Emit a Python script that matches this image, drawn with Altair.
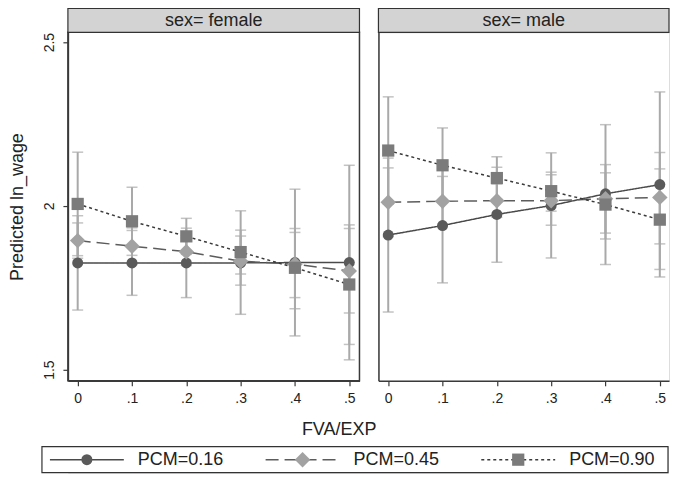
import altair as alt
import pandas as pd

FONT = "Liberation Sans"
TXT = "#222222"
AX = "#3a3a3a"
CI = "#a9a9a9"

# ---------------- data ----------------
sex_values = ["female", "male"]
strip_labels = ["sex= female", "sex= male"]
pcm_labels = ["PCM=0.16", "PCM=0.45", "PCM=0.90"]
fva_values = [0.0, 0.1, 0.2, 0.3, 0.4, 0.5]

x_tick_values = [0, 0.1, 0.2, 0.3, 0.4, 0.5]
x_tick_labels = ["0", ".1", ".2", ".3", ".4", ".5"]
y_tick_values = [1.5, 2.0, 2.5]
y_tick_labels = ["1.5", "2", "2.5"]

y_title = "Predicted ln_wage"
x_title = "FVA/EXP"

# female
female_016 = [1.826, 1.826, 1.826, 1.826, 1.827, 1.827]
female_016_lo = [1.682, 1.727, 1.720, 1.669, 1.603, 1.530]
female_016_hi = [1.970, 1.925, 1.932, 1.985, 2.051, 2.124]
female_045 = [1.894, 1.877, 1.860, 1.831, 1.822, 1.801]
female_045_lo = [1.840, 1.821, 1.818, 1.758, 1.720, 1.673]
female_045_hi = [1.948, 1.933, 1.902, 1.908, 1.919, 1.931]
female_090 = [2.006, 1.953, 1.907, 1.859, 1.811, 1.760]
female_090_lo = [1.848, 1.849, 1.852, 1.792, 1.686, 1.577]
female_090_hi = [2.164, 2.057, 1.962, 1.926, 1.931, 1.942]

# male
male_016 = [1.911, 1.940, 1.974, 2.001, 2.037, 2.065]
male_016_lo = [1.676, 1.765, 1.828, 1.841, 1.821, 1.783]
male_016_hi = [2.146, 2.115, 2.118, 2.162, 2.248, 2.348]
male_045 = [2.011, 2.014, 2.016, 2.016, 2.022, 2.026]
male_045_lo = [1.906, 1.938, 1.965, 1.941, 1.917, 1.884]
male_045_hi = [2.116, 2.090, 2.067, 2.095, 2.126, 2.163]
male_090 = [2.169, 2.124, 2.085, 2.045, 2.004, 1.958]
male_090_lo = [2.005, 2.010, 2.020, 1.984, 1.899, 1.806]
male_090_hi = [2.333, 2.238, 2.150, 2.103, 2.101, 2.113]

series = [
    ("female", "PCM=0.16", female_016, female_016_lo, female_016_hi),
    ("female", "PCM=0.45", female_045, female_045_lo, female_045_hi),
    ("female", "PCM=0.90", female_090, female_090_lo, female_090_hi),
    ("male", "PCM=0.16", male_016, male_016_lo, male_016_hi),
    ("male", "PCM=0.45", male_045, male_045_lo, male_045_hi),
    ("male", "PCM=0.90", male_090, male_090_lo, male_090_hi),
]
rows = []
for sex, pcm, m, lo, hi in series:
    for xv, a, b, c in zip(fva_values, m, lo, hi):
        rows.append({"sex": sex, "pcm": pcm, "fva": xv, "margin": a, "lo": b, "hi": c})
df = pd.DataFrame(rows)

# ---------------- styles ----------------
marker_fills = ["#5a5a5a", "#a2a2a2", "#7b7b7b"]
line_colors = ["#4a4a4a", "#5c5c5c", "#3a3a3a"]
shapes = ["circle", "diamond", "square"]
sizes = [121, 240, 150]
dashes = [[1, 0], [13, 6], [3, 3]]

PX_PER_UNIT = 544
X_MIN = -0.018
PW_L, PW_R, PH = 292, 291, 349
STRIP_H = 24
y_scale = alt.Scale(domain=[1.466, 2.530], nice=False, zero=False)


def arr(v):
    return "[" + ",".join(repr(x) if not isinstance(x, str) else "'" + x + "'" for x in v) + "]"


x_label_expr = f"{arr(x_tick_labels)}[indexof({arr(x_tick_values)}, datum.value)]"
y_label_expr = f"{arr(y_tick_labels)}[indexof({arr(y_tick_values)}, datum.value)]"

stroke_scale = alt.Scale(domain=pcm_labels, range=line_colors)
fill_scale = alt.Scale(domain=pcm_labels, range=marker_fills)
shape_scale = alt.Scale(domain=pcm_labels, range=shapes)
size_scale = alt.Scale(type="ordinal", domain=pcm_labels, range=sizes)
dash_scale = alt.Scale(domain=pcm_labels, range=dashes)


def make_panel(sex, strip_label, width, left):
    x_max = X_MIN + width / PX_PER_UNIT
    x_scale = alt.Scale(domain=[X_MIN, x_max], nice=False, zero=False)
    x_axis = alt.Axis(values=x_tick_values, labelExpr=x_label_expr, title=None,
                      grid=False, tickSize=5, tickColor=AX, tickWidth=1.2,
                      domainColor=AX, domainWidth=1.5, labelFontSize=14,
                      labelColor=TXT, labelPadding=6, labelFont=FONT,
                      labelFlush=False)
    if left:
        y_axis = alt.Axis(values=y_tick_values, labelExpr=y_label_expr, grid=False,
                          tickSize=5, tickColor=AX, tickWidth=1.2, domainColor=AX,
                          domainWidth=1.5, labelFontSize=14, labelColor=TXT,
                          labelFont=FONT, labelAngle=270, labelAlign="center",
                          labelBaseline="bottom", labelPadding=6,
                          titleFontSize=18, titleFont=FONT, titleFontWeight="normal",
                          titleColor=TXT, titlePadding=16)
        yt = y_title
    else:
        y_axis = alt.Axis(labels=False, ticks=False, grid=False, domainColor=AX,
                          domainWidth=1.5, minExtent=0, maxExtent=0)
        yt = None

    base = alt.Chart(df).transform_filter(alt.datum.sex == sex)
    x = alt.X("fva:Q", scale=x_scale, axis=x_axis)
    strip_df = pd.DataFrame({"label": [strip_label]})

    strip_rect = alt.Chart(strip_df).mark_rect(fill="#d3d3d3", stroke="#333333",
                                               strokeWidth=1.2).encode(
        x=alt.value(0), x2=alt.value(width), y=alt.value(-STRIP_H), y2=alt.value(0))
    strip_text = alt.Chart(strip_df).mark_text(fontSize=18, font=FONT, color=TXT,
                                               baseline="middle", align="center").encode(
        text="label:N", x=alt.value(width / 2), y=alt.value(-STRIP_H / 2 + 1))

    bars = base.mark_errorbar(color=CI, thickness=2,
                              ticks={"size": 11, "thickness": 1.5}).encode(
        x=x, y=alt.Y("lo:Q", scale=y_scale, axis=y_axis, title=yt), y2="hi:Q")
    lines = base.mark_line(strokeWidth=1.5).encode(
        x=x, y=alt.Y("margin:Q", scale=y_scale, axis=y_axis, title=yt),
        stroke=alt.Stroke("pcm:N", scale=stroke_scale, legend=None),
        strokeDash=alt.StrokeDash("pcm:N", scale=dash_scale, legend=None),
        detail="pcm:N")
    points = base.mark_point(filled=True, opacity=1, strokeOpacity=0).encode(
        x=x, y=alt.Y("margin:Q", scale=y_scale, axis=y_axis, title=yt),
        fill=alt.Fill("pcm:N", scale=fill_scale, legend=None),
        shape=alt.Shape("pcm:N", scale=shape_scale, legend=None),
        size=alt.Size("pcm:N", scale=size_scale, legend=None))

    layer = alt.layer(strip_rect, strip_text, bars, lines, points).properties(
        width=width, height=PH)
    if left:
        layer = layer.properties(view=alt.ViewBackground(stroke=AX, strokeWidth=1.5))
    return layer


left_panel = make_panel(sex_values[0], strip_labels[0], PW_L, True)
right_panel = make_panel(sex_values[1], strip_labels[1], PW_R, False)

panels = alt.hconcat(left_panel, right_panel, spacing=15).properties(
    title=alt.TitleParams(x_title, orient="bottom", anchor="middle", fontSize=18,
                          fontWeight="normal", font=FONT, color=TXT, offset=15))

# ---------------- legend ----------------
# legend view origin is aligned with the left panel's plot origin;
# the legend box extends 26px to the left of it.
LEG_LEFT, LEG_RIGHT = -26, 601
LEG_H = 26
STEP = 216
legend_df = pd.DataFrame({"pcm": pcm_labels, "idx": [0, 1, 2], "ly": [0.5] * 3})
box_df = pd.DataFrame({"bx0": [LEG_LEFT], "bx1": [LEG_RIGHT], "by0": [0.0], "by1": [1.0]})
lx = alt.Scale(domain=[0, LEG_RIGHT], nice=False, zero=False)
ly = alt.Scale(domain=[0, 1], nice=False)

leg_box = alt.Chart(box_df).mark_rect(fill="white", stroke="#333333",
                                      strokeWidth=1.2).encode(
    x=alt.X("bx0:Q", scale=lx, axis=None), x2="bx1:Q",
    y=alt.Y("by0:Q", scale=ly, axis=None), y2="by1:Q")

leg_base = alt.Chart(legend_df).transform_calculate(
    x0=f"datum.idx * {STEP} - 18", x1=f"datum.idx * {STEP} + 56",
    xm=f"datum.idx * {STEP} + 19", xt=f"datum.idx * {STEP} + 70")
leg_y = alt.Y("ly:Q", scale=ly, axis=None)

leg_lines = leg_base.mark_rule(strokeWidth=1.5).encode(
    x=alt.X("x0:Q", scale=lx, axis=None), x2="x1:Q", y=leg_y,
    stroke=alt.Stroke("pcm:N", scale=stroke_scale, legend=None),
    strokeDash=alt.StrokeDash("pcm:N", scale=dash_scale, legend=None))
leg_points = leg_base.mark_point(filled=True, opacity=1, strokeOpacity=0).encode(
    x=alt.X("xm:Q", scale=lx, axis=None), y=leg_y,
    fill=alt.Fill("pcm:N", scale=fill_scale, legend=None),
    shape=alt.Shape("pcm:N", scale=shape_scale, legend=None),
    size=alt.Size("pcm:N", scale=size_scale, legend=None))
leg_text = leg_base.mark_text(align="left", baseline="middle", fontSize=18,
                              font=FONT, color=TXT).encode(
    x=alt.X("xt:Q", scale=lx, axis=None), y=leg_y, text="pcm:N")

legend = alt.layer(leg_box, leg_lines, leg_points, leg_text).properties(
    width=LEG_RIGHT, height=LEG_H)

chart = alt.vconcat(panels, legend, spacing=5).properties(
    padding={"left": 0, "top": -2, "right": 0, "bottom": 0}
).configure_view(stroke=None).configure(background="white")

chart.save("out.html", embed_options={"renderer": "svg", "actions": False})
